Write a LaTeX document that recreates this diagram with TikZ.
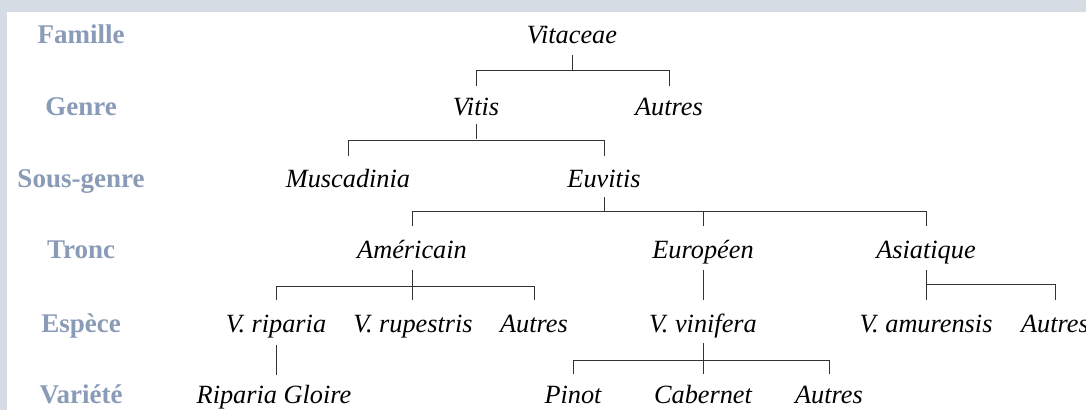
\documentclass[tikz,border=0pt]{standalone}
\usepackage{fontspec}
\setmainfont{Liberation Serif}
\newfontfamily\timesfont{Liberation Serif}
\definecolor{frameblue}{RGB}{213,220,228}
\definecolor{labelblue}{RGB}{138,155,183}
\definecolor{linegray}{RGB}{50,50,50}
\tikzset{
  lvl/.style={anchor=base, inner sep=0pt, text=labelblue, font=\timesfont\fontsize{27}{30}\selectfont\bfseries},
  taxon/.style={anchor=base, inner sep=0pt, text=black, font=\timesfont\fontsize{26.3}{30}\selectfont\itshape},
  link/.style={draw=linegray, line width=1pt}
}
\begin{document}
\begin{tikzpicture}[x=1pt,y=-1pt]
\useasboundingbox (0,0) rectangle (1086,410);
\fill[frameblue] (0,0) rectangle (1086,410);
\fill[white] (7,12) rectangle (1090,415);

% level labels
\node[lvl] (lf) at (81,43) {Famille};
\node[lvl] (lg) at (81,115) {Genre};
\node[lvl] (ls) at (81,187) {Sous-genre};
\node[lvl] (lt) at (81,258) {Tronc};
\node[lvl] (le) at (81,332) {Espèce};
\node[lvl] (lv) at (81,403) {Variété};

% taxa
\node[taxon] (vitaceae) at (572,43) {Vitaceae};
\node[taxon] (vitis) at (476,115) {Vitis};
\node[taxon] (autresG) at (669,115) {Autres};
\node[taxon] (musc) at (348,187) {Muscadinia};
\node[taxon] (euvitis) at (604,187) {Euvitis};
\node[taxon] (amer) at (412,258) {Américain};
\node[taxon] (euro) at (703,258) {Européen};
\node[taxon] (asia) at (926,258) {Asiatique};
\node[taxon] (ripa) at (276,332) {V. riparia};
\node[taxon] (rupe) at (413,332) {V. rupestris};
\node[taxon] (autresA) at (534,332) {Autres};
\node[taxon] (vini) at (703,332) {V. vinifera};
\node[taxon] (amur) at (926,332) {V. amurensis};
\node[taxon] (autresS) at (1055,332) {Autres};
\node[taxon] (gloire) at (274,403) {Riparia Gloire};
\node[taxon] (pinot) at (573,403) {Pinot};
\node[taxon] (cabernet) at (703,403) {Cabernet};
\node[taxon] (autresV) at (829,403) {Autres};

% Vitaceae -> Vitis, Autres
\draw[link] ([yshift=-12pt]vitaceae.base) -- ([yshift=-27pt]vitaceae.base);
\draw[link] ([yshift=29pt]vitis.base) -- ++(0,-16) -| ([yshift=29pt]autresG.base);

% Vitis -> Muscadinia, Euvitis
\draw[link] ([yshift=-9pt]vitis.base) -- ([yshift=-24pt]vitis.base);
\draw[link] ([yshift=31pt]musc.base) -- ++(0,-16) -| ([yshift=31pt]euvitis.base);

% Euvitis -> Americain, Europeen, Asiatique
\draw[link] ([yshift=-10pt]euvitis.base) -- ([yshift=-24pt]euvitis.base);
\draw[link] ([yshift=32pt]amer.base) -- ++(0,-15) -| ([yshift=32pt]asia.base);
\draw[link] ([yshift=32pt]euro.base) -- ++(0,-15);

% Americain -> riparia, rupestris, Autres
\draw[link] ([yshift=-12pt]amer.base) -- ([yshift=-42pt]amer.base);
\draw[link] ([yshift=32pt]ripa.base) -- ++(0,-14) -| ([yshift=32pt]autresA.base);

% Europeen -> vinifera
\draw[link] ([yshift=-12pt]euro.base) -- ([yshift=32pt]vini.base);

% Asiatique -> amurensis, Autres
\draw[link] ([yshift=-12pt]asia.base) -- ([yshift=32pt]amur.base);
\draw[link] ([yshift=-26pt]asia.base) -| ([yshift=32pt]autresS.base);

% riparia -> Riparia Gloire
\draw[link] ([yshift=-13pt]ripa.base) -- ([yshift=-43pt]ripa.base);

% vinifera -> Pinot, Cabernet, Autres
\draw[link] ([yshift=-11pt]vini.base) -- ([yshift=29pt]cabernet.base);
\draw[link] ([yshift=29pt]pinot.base) -- ++(0,-14) -| ([yshift=29pt]autresV.base);
\end{tikzpicture}
\end{document}
